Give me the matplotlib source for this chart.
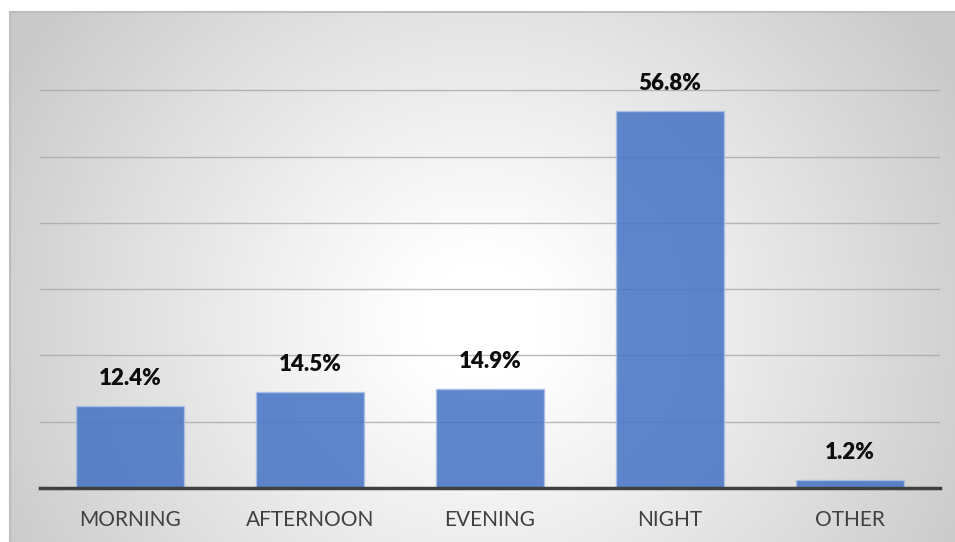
import numpy as np
import matplotlib
matplotlib.use("Agg")
import matplotlib.pyplot as plt

categories = ["MORNING", "AFTERNOON", "EVENING", "NIGHT", "OTHER"]
shares = [12.4, 14.5, 14.9, 56.8, 1.2]
value_labels = ["12.4%", "14.5%", "14.9%", "56.8%", "1.2%"]
grid_values = [10, 20, 30, 40, 50, 60]

W, H = 955, 542
fig = plt.figure(figsize=(W / 100, H / 100), dpi=100)
fig.patch.set_facecolor("white")

# Chart area with a radial grey-to-white fill
bg = fig.add_axes([10 / W, 0, (W - 10) / W, (H - 12) / H])
bg.set_axis_off()
yy, xx = np.mgrid[12:H, 10:W]
cx, cy = 480, 320
r = np.hypot(xx - cx, (yy - cy) * 1.05)
t = np.clip((r - 60) / 480, 0, 1) ** 1.1
shade = 1.0 - t * (1.0 - 0.79)
img = np.dstack([shade, shade, shade])
bg.imshow(img, aspect="auto", extent=[0, 1, 0, 1], origin="upper")
bg.set_xlim(0, 1)
bg.set_ylim(0, 1)
bg.plot([0, 0], [0, 1], color="#bdbdbd", lw=1.5, transform=bg.transAxes, clip_on=False)
bg.plot([0, 1], [1, 1], color="#bdbdbd", lw=1.5, transform=bg.transAxes, clip_on=False)

ax = fig.add_axes([40 / W, (H - 488) / H, 900 / W, (488 - 12) / H])
ax.patch.set_alpha(0)
x = np.arange(len(categories))
ax.set_xlim(-0.5, len(categories) - 0.5)
ax.set_ylim(0, 476 / 6.63)

for g in grid_values:
    ax.axhline(g, color="#a8a8a8", lw=1.0, alpha=0.8, zorder=1)

ax.bar(x, shares, width=0.6, color="#4472c4", alpha=0.85,
       edgecolor="#a9c0e8", linewidth=1.0, zorder=2)

for xi, v, lab in zip(x, shares, value_labels):
    ax.annotate(lab, (xi, v), xytext=(0, 17), textcoords="offset pixels",
                ha="center", va="bottom", fontsize=16, fontweight="heavy",
                family="Lato", color="#0d0d0d", zorder=3)

for s in ["top", "right", "left"]:
    ax.spines[s].set_visible(False)
ax.spines["bottom"].set_color("#404040")
ax.spines["bottom"].set_linewidth(2.5)
ax.spines["bottom"].set_zorder(4)
ax.set_yticks([])
ax.set_xticks(x)
ax.set_xticklabels(categories, family="Lato", fontsize=15, color="#404040")
ax.tick_params(axis="x", length=0, pad=16)

fig.savefig("out.png", dpi=100)
